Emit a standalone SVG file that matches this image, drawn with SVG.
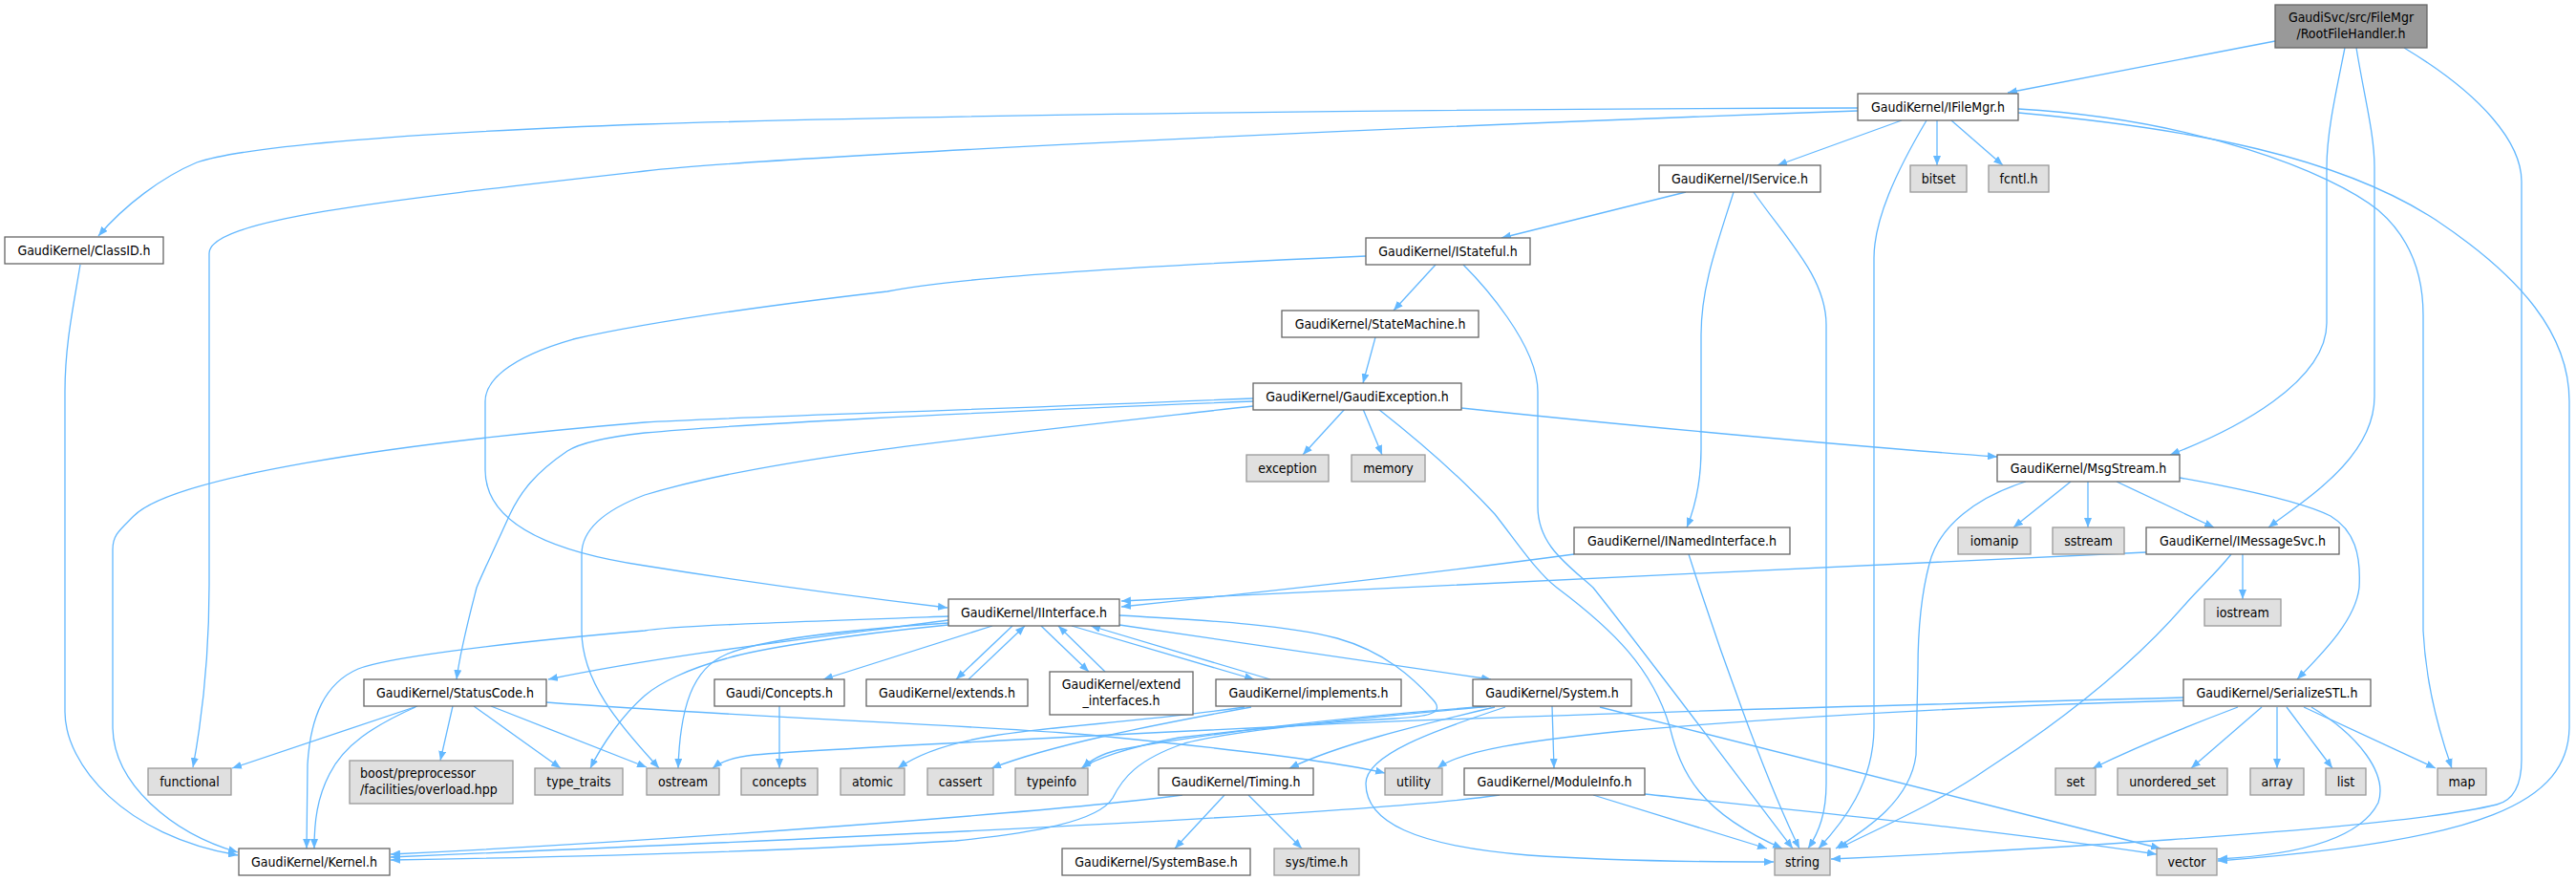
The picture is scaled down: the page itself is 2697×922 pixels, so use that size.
<svg xmlns="http://www.w3.org/2000/svg" width="2697" height="922" viewBox="0 0 2697 922">
<style>
.n rect{fill:#fff;stroke:#666;stroke-width:1.3}
.x rect{fill:#e0e0e0;stroke:#999;stroke-width:1.3}
.r rect{fill:#999;stroke:#666;stroke-width:1.3}
text{font-family:"DejaVu Sans Condensed","Liberation Sans",sans-serif;font-size:14px;fill:#000;text-anchor:middle}
text.l{text-anchor:start}
#edges path{fill:none;stroke:#63b8ff;stroke-width:1.3;marker-end:url(#a)}
</style>
<defs>
<marker id="a" markerUnits="userSpaceOnUse" markerWidth="11" markerHeight="8" refX="10" refY="4" orient="auto"><path d="M0,0 L10,4 L0,8 z" fill="#63b8ff"/></marker>
</defs>
<rect width="2697" height="922" fill="#fff"/>
<g id="edges">
<path d="M2382,43 L2102,97"/>
<path d="M2455,50 C2445,100 2436,140 2436,175 L2436,338 C2436,400 2340,450 2272,476"/>
<path d="M2467,50 C2475,100 2486,140 2486,175 L2486,415 C2486,480 2410,525 2375,552"/>
<path d="M2517,50 C2600,100 2640,150 2640,190 L2640,795 C2640,825 2630,838 2614,842 C2500,870 2050,893 1917,899"/>
<path d="M1945,113 C1500,114 1000,120 675,130 C400,140 250,155 206,170 C170,185 130,215 103,247"/>
<path d="M1945,116 C1400,135 800,165 675,179 C400,210 219,230 219,265 L219,612 C219,700 210,760 202,803"/>
<path d="M1991,126 L1861,173"/>
<path d="M2028,126 L2028,173"/>
<path d="M2043,126 L2097,173"/>
<path d="M2113,114 C2300,125 2440,180 2490,220 C2525,250 2537,290 2537,330 L2537,660 C2540,720 2555,770 2567,804"/>
<path d="M2017,126 C1985,180 1962,230 1962,270 L1962,760 C1962,820 1930,860 1904,888"/>
<path d="M2113,118 C2300,135 2450,165 2550,230 C2640,290 2690,350 2690,420 L2690,760 C2690,840 2600,880 2322,901"/>
<path d="M84,277 C77,320 68,360 68,410 L68,745 C68,800 130,875 249,895"/>
<path d="M1765,201 L1572,249"/>
<path d="M1815,201 C1798,255 1781,300 1781,350 L1781,470 C1781,500 1775,530 1766,552"/>
<path d="M1836,201 C1870,250 1912,290 1912,340 L1912,820 C1912,850 1905,870 1893,888"/>
<path d="M1430,268 C1200,278 1000,290 929,305 C800,320 675,338 600,355 C530,375 508,400 508,420 L508,492 C508,540 560,575 675,592 C800,612 900,625 992,636"/>
<path d="M1503,277 L1459,325"/>
<path d="M1532,277 C1550,295 1610,360 1610,410 L1610,530 C1610,570 1640,590 1668,615 C1720,680 1840,840 1877,888"/>
<path d="M1440,353 L1427,401"/>
<path d="M1312,417 C1000,430 750,437 675,442 C400,465 180,500 140,540 C125,555 118,560 118,575 L118,760 C118,820 180,872 249,892"/>
<path d="M1312,420 C1000,432 760,445 675,453 C630,458 605,465 594,472 C560,495 545,515 534,538 C515,580 505,600 499,615 C490,650 482,680 478,711"/>
<path d="M1408,428 L1364,476"/>
<path d="M1427,428 L1447,476"/>
<path d="M1312,425 C1000,460 800,480 675,518 C630,535 609,555 609,580 L609,660 C609,720 660,770 690,804"/>
<path d="M1443,428 C1490,465 1530,500 1565,538 C1590,570 1610,600 1630,615 C1690,660 1730,700 1748,760 C1760,810 1780,850 1866,888"/>
<path d="M1530,427 C1700,445 1950,468 2091,478"/>
<path d="M2216,504 L2318,552"/>
<path d="M2168,504 L2108,552"/>
<path d="M2186,504 L2186,552"/>
<path d="M2121,504 C2070,520 2030,550 2020,590 C2012,620 2008,660 2008,700 L2006,790 C2000,840 1950,870 1922,888"/>
<path d="M2282,500 C2350,512 2410,525 2440,540 C2465,555 2472,580 2470,615 C2466,650 2430,685 2405,711"/>
<path d="M2247,578 C1900,595 1500,612 1174,629"/>
<path d="M2348,580 L2348,627"/>
<path d="M2336,580 C2320,600 2306,612 2290,630 C2230,700 2150,760 2080,805 C2030,840 1960,870 1925,888"/>
<path d="M1648,580 C1500,600 1300,622 1174,635"/>
<path d="M1768,580 C1800,680 1850,820 1884,888"/>
<path d="M993,645 C850,650 700,655 675,660 C500,675 400,690 375,700 C340,715 325,750 322,800 L321,888"/>
<path d="M993,649 C850,668 700,685 574,711"/>
<path d="M993,652 C870,660 790,672 760,685 C725,700 712,740 710,804"/>
<path d="M993,654 C880,665 790,680 761,689 C720,700 690,715 675,728 C650,750 630,780 618,804"/>
<path d="M1039,655 L862,711"/>
<path d="M1060,655 L1001,711"/>
<path d="M1014,711 L1073,655"/>
<path d="M1090,655 L1140,703"/>
<path d="M1157,703 L1108,655"/>
<path d="M1122,655 L1313,711"/>
<path d="M1330,711 L1142,655"/>
<path d="M1172,654 L1561,711"/>
<path d="M1172,644 C1280,650 1350,655 1400,668 C1450,682 1480,710 1500,732 C1515,748 1490,750 1460,752 C1380,756 1300,764 1234,772 C1180,782 1145,795 1132,804"/>
<path d="M1303,740 C1200,755 1100,760 1040,770 C990,778 960,790 940,804"/>
<path d="M1310,740 C1200,760 1100,780 1038,804"/>
<path d="M1561,739 C1450,750 1300,762 1240,778 C1190,795 1175,815 1165,835 C1150,860 1080,872 1000,880 C800,892 600,897 409,900"/>
<path d="M1565,740 C1480,760 1400,780 1350,804"/>
<path d="M1561,739 C1400,750 1250,770 1170,785 C1150,790 1140,797 1134,804"/>
<path d="M1625,739 L1627,804"/>
<path d="M1576,740 C1500,765 1430,790 1430,820 C1430,860 1480,885 1600,895 C1700,902 1800,902 1857,902"/>
<path d="M1675,740 L2262,888"/>
<path d="M1570,832 C1450,850 1000,872 409,897"/>
<path d="M1668,832 L1850,888"/>
<path d="M1722,831 C1900,850 2100,870 2258,894"/>
<path d="M1238,832 C1100,850 700,880 409,894"/>
<path d="M1282,832 L1230,888"/>
<path d="M1307,832 L1363,888"/>
<path d="M437,739 L243,804"/>
<path d="M435,740 C390,760 360,780 345,810 C332,835 329,860 329,888"/>
<path d="M474,739 L461,796"/>
<path d="M496,739 L587,804"/>
<path d="M514,739 L677,803"/>
<path d="M572,735 C800,752 1050,760 1150,770 C1300,785 1400,797 1450,809"/>
<path d="M2286,730 C1900,740 1500,752 1350,760 C1100,772 850,785 790,790 C770,792 755,797 746,804"/>
<path d="M2286,733 C2100,738 1900,748 1700,765 C1600,775 1530,785 1505,804"/>
<path d="M2343,740 C2290,760 2230,785 2191,804"/>
<path d="M2368,740 L2294,804"/>
<path d="M2384,740 L2384,804"/>
<path d="M2394,740 L2442,804"/>
<path d="M2412,740 L2550,804"/>
<path d="M2420,740 C2470,770 2500,810 2490,840 C2470,880 2400,895 2322,899"/>
<path d="M816,739 L816,804"/>
</g>
<g id="n_root" class="r"><rect x="2382" y="5" width="159" height="45"/><text x="2461.5" y="23">GaudiSvc/src/FileMgr</text><text x="2461.5" y="40">/RootFileHandler.h</text></g>
<g id="n_IFileMgr" class="n"><rect x="1945" y="98" width="168" height="28"/><text x="2029" y="117">GaudiKernel/IFileMgr.h</text></g>
<g id="n_ClassID" class="n"><rect x="5" y="248" width="166" height="28"/><text x="88" y="267">GaudiKernel/ClassID.h</text></g>
<g id="n_IService" class="n"><rect x="1737" y="173" width="169" height="28"/><text x="1821.5" y="192">GaudiKernel/IService.h</text></g>
<g id="n_bitset" class="x"><rect x="2000" y="173" width="59" height="28"/><text x="2029.5" y="192">bitset</text></g>
<g id="n_fcntl" class="x"><rect x="2082" y="173" width="63" height="28"/><text x="2113.5" y="192">fcntl.h</text></g>
<g id="n_IStateful" class="n"><rect x="1430" y="249" width="172" height="28"/><text x="1516" y="268">GaudiKernel/IStateful.h</text></g>
<g id="n_StateMachine" class="n"><rect x="1342" y="325" width="206" height="28"/><text x="1445" y="344">GaudiKernel/StateMachine.h</text></g>
<g id="n_GaudiException" class="n"><rect x="1312" y="401" width="218" height="28"/><text x="1421" y="420">GaudiKernel/GaudiException.h</text></g>
<g id="n_exception" class="x"><rect x="1305" y="476" width="86" height="28"/><text x="1348" y="495">exception</text></g>
<g id="n_memory" class="x"><rect x="1415" y="476" width="77" height="28"/><text x="1453.5" y="495">memory</text></g>
<g id="n_MsgStream" class="n"><rect x="2091" y="476" width="191" height="28"/><text x="2186.5" y="495">GaudiKernel/MsgStream.h</text></g>
<g id="n_INamedInterface" class="n"><rect x="1648" y="552" width="226" height="28"/><text x="1761" y="571">GaudiKernel/INamedInterface.h</text></g>
<g id="n_iomanip" class="x"><rect x="2050" y="552" width="76" height="28"/><text x="2088" y="571">iomanip</text></g>
<g id="n_sstream" class="x"><rect x="2149" y="552" width="75" height="28"/><text x="2186.5" y="571">sstream</text></g>
<g id="n_IMessageSvc" class="n"><rect x="2247" y="552" width="202" height="28"/><text x="2348" y="571">GaudiKernel/IMessageSvc.h</text></g>
<g id="n_IInterface" class="n"><rect x="993" y="627" width="179" height="28"/><text x="1082.5" y="646">GaudiKernel/IInterface.h</text></g>
<g id="n_iostream" class="x"><rect x="2308" y="627" width="80" height="28"/><text x="2348" y="646">iostream</text></g>
<g id="n_StatusCode" class="n"><rect x="381" y="711" width="191" height="28"/><text x="476.5" y="730">GaudiKernel/StatusCode.h</text></g>
<g id="n_Concepts" class="n"><rect x="748" y="711" width="136" height="28"/><text x="816" y="730">Gaudi/Concepts.h</text></g>
<g id="n_extends" class="n"><rect x="907" y="711" width="169" height="28"/><text x="991.5" y="730">GaudiKernel/extends.h</text></g>
<g id="n_extend_interfaces" class="n"><rect x="1099" y="703" width="150" height="45"/><text x="1174" y="721">GaudiKernel/extend</text><text x="1174" y="738">_interfaces.h</text></g>
<g id="n_implements" class="n"><rect x="1273" y="711" width="194" height="28"/><text x="1370" y="730">GaudiKernel/implements.h</text></g>
<g id="n_System" class="n"><rect x="1542" y="711" width="166" height="28"/><text x="1625" y="730">GaudiKernel/System.h</text></g>
<g id="n_SerializeSTL" class="n"><rect x="2286" y="711" width="196" height="28"/><text x="2384" y="730">GaudiKernel/SerializeSTL.h</text></g>
<g id="n_functional" class="x"><rect x="155" y="804" width="87" height="28"/><text x="198.5" y="823">functional</text></g>
<g id="n_boost" class="x"><rect x="366" y="796" width="171" height="45"/><text class="l" x="377" y="814">boost/preprocessor</text><text class="l" x="377" y="831">/facilities/overload.hpp</text></g>
<g id="n_type_traits" class="x"><rect x="560" y="804" width="92" height="28"/><text x="606" y="823">type_traits</text></g>
<g id="n_ostream" class="x"><rect x="677" y="804" width="76" height="28"/><text x="715" y="823">ostream</text></g>
<g id="n_concepts" class="x"><rect x="776" y="804" width="80" height="28"/><text x="816" y="823">concepts</text></g>
<g id="n_atomic" class="x"><rect x="880" y="804" width="67" height="28"/><text x="913.5" y="823">atomic</text></g>
<g id="n_cassert" class="x"><rect x="971" y="804" width="69" height="28"/><text x="1005.5" y="823">cassert</text></g>
<g id="n_typeinfo" class="x"><rect x="1063" y="804" width="76" height="28"/><text x="1101" y="823">typeinfo</text></g>
<g id="n_Timing" class="n"><rect x="1213" y="804" width="162" height="28"/><text x="1294" y="823">GaudiKernel/Timing.h</text></g>
<g id="n_utility" class="x"><rect x="1450" y="804" width="60" height="28"/><text x="1480" y="823">utility</text></g>
<g id="n_ModuleInfo" class="n"><rect x="1533" y="804" width="189" height="28"/><text x="1627.5" y="823">GaudiKernel/ModuleInfo.h</text></g>
<g id="n_set" class="x"><rect x="2152" y="804" width="42" height="28"/><text x="2173" y="823">set</text></g>
<g id="n_unordered_set" class="x"><rect x="2217" y="804" width="115" height="28"/><text x="2274.5" y="823">unordered_set</text></g>
<g id="n_array" class="x"><rect x="2356" y="804" width="56" height="28"/><text x="2384" y="823">array</text></g>
<g id="n_list" class="x"><rect x="2435" y="804" width="42" height="28"/><text x="2456" y="823">list</text></g>
<g id="n_map" class="x"><rect x="2552" y="804" width="51" height="28"/><text x="2577.5" y="823">map</text></g>
<g id="n_Kernel" class="n"><rect x="250" y="888" width="158" height="28"/><text x="329" y="907">GaudiKernel/Kernel.h</text></g>
<g id="n_SystemBase" class="n"><rect x="1112" y="888" width="197" height="28"/><text x="1210.5" y="907">GaudiKernel/SystemBase.h</text></g>
<g id="n_systime" class="x"><rect x="1334" y="888" width="89" height="28"/><text x="1378.5" y="907">sys/time.h</text></g>
<g id="n_string" class="x"><rect x="1858" y="888" width="58" height="28"/><text x="1887" y="907">string</text></g>
<g id="n_vector" class="x"><rect x="2258" y="888" width="63" height="28"/><text x="2289.5" y="907">vector</text></g>
</svg>
